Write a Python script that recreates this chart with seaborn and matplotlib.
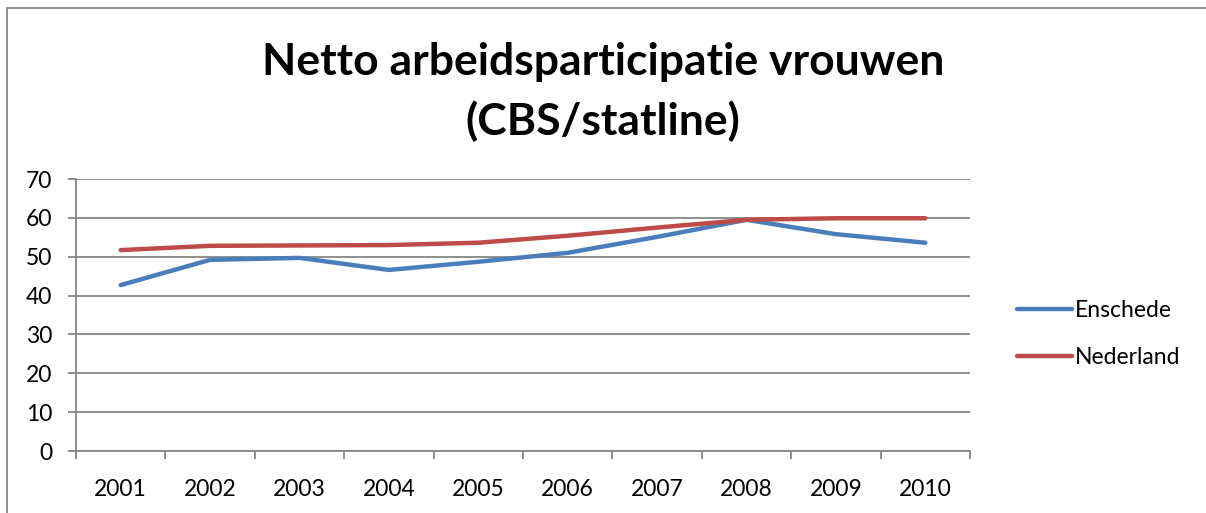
import matplotlib
matplotlib.use("Agg")
import matplotlib.pyplot as plt
import matplotlib.patches as mpatches
import seaborn as sns
import pandas as pd
import numpy as np

years = ["2001", "2002", "2003", "2004", "2005", "2006", "2007", "2008", "2009", "2010"]
enschede = [42.7, 49.2, 49.7, 46.6, 48.7, 51.0, 55.1, 59.5, 55.8, 53.6]
nederland = [51.7, 52.8, 52.9, 53.0, 53.6, 55.4, 57.5, 59.5, 59.9, 59.9]
series_names = ["Enschede", "Nederland"]
colors = ["#4A7EBB", "#BE4B48"]
yticks = [0, 10, 20, 30, 40, 50, 60, 70]

sns.set_theme(style="white")
plt.rcParams["font.family"] = ["Lato", "DejaVu Sans"]
plt.rcParams["text.color"] = "black"
plt.rcParams["xtick.color"] = "black"
plt.rcParams["ytick.color"] = "black"

df = pd.DataFrame({
    "idx": list(range(len(years))) * 2,
    "value": enschede + nederland,
    "serie": [series_names[0]] * len(years) + [series_names[1]] * len(years),
})

fig = plt.figure(figsize=(12.06, 5.13), dpi=100)
ax = fig.add_axes([76 / 1206, 1 - 451 / 513, (970 - 76) / 1206, (451 - 179) / 513])

sns.lineplot(data=df, x="idx", y="value", hue="serie", palette=colors,
             linewidth=3.2, ax=ax, legend=True)
for ln in ax.get_lines():
    ln.set_solid_capstyle("round")
    ln.set_solid_joinstyle("round")

ax.set_xlim(-0.5, len(years) - 0.5)
ax.set_ylim(0, 70)
ax.set_yticks(yticks)
ax.set_yticklabels([str(t) for t in yticks])
ax.set_xticks(range(len(years)))
ax.set_xticklabels(years)
ax.set_xticks(np.arange(-0.5, len(years), 1.0), minor=True)
ax.tick_params(axis="x", which="major", length=0, pad=20, labelsize=16.5, labelcolor="black")
ax.tick_params(axis="x", which="minor", length=6, width=1.3, color="#868686", direction="out", bottom=True)
ax.tick_params(axis="y", which="major", length=6, width=1.3, color="#868686", pad=11,
               labelsize=16.5, left=True, direction="out", labelcolor="black")
ax.set_xlabel("")
ax.set_ylabel("")

ax.grid(axis="y", color="#868686", linewidth=1.3)
ax.set_axisbelow(True)
for side in ["top", "right"]:
    ax.spines[side].set_visible(False)
for side in ["left", "bottom"]:
    ax.spines[side].set_color("#868686")
    ax.spines[side].set_linewidth(1.3)

leg = ax.legend(loc="center left", bbox_to_anchor=(1.03, 0.43), frameon=False,
                fontsize=16.5, handlelength=2.4, handletextpad=0.12, labelspacing=1.1)
for h in leg.get_lines():
    h.set_linewidth(3.2)
    h.set_solid_capstyle("round")
for t in leg.get_texts():
    t.set_color("black")

fig.text(0.5, 1 - 62 / 513, "Netto arbeidsparticipatie vrouwen", ha="center", va="center",
         fontsize=32, fontweight="bold", color="black")
fig.text(0.5, 1 - 121 / 513, "(CBS/statline)", ha="center", va="center",
         fontsize=32, fontweight="bold", color="black")

border = mpatches.Rectangle((7 / 1206, -0.1), 1.2, 1 - 8 / 513 + 0.1, transform=fig.transFigure,
                            fill=False, edgecolor="#868686", linewidth=1.3)
fig.patches.append(border)

fig.savefig("out.png", dpi=100)
